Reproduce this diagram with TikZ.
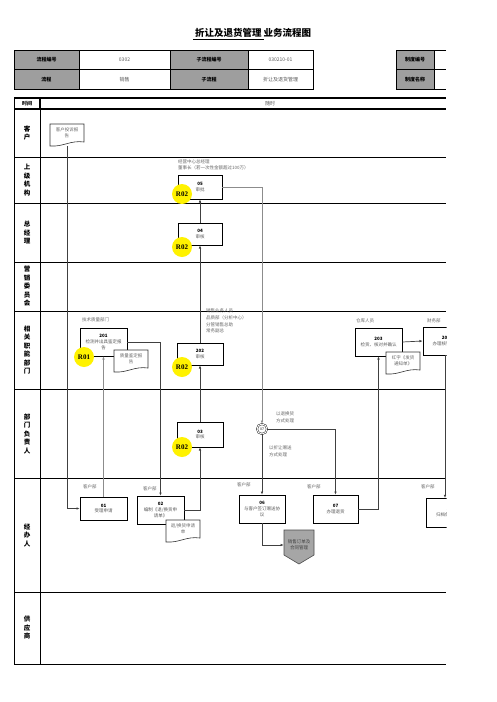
\documentclass[tikz,border=0pt]{standalone}
\usepackage{fontspec}
\setmainfont{Noto Sans CJK SC}
\newfontfamily\rfont{Liberation Serif}
\usetikzlibrary{arrows.meta}
\newcommand\docshape[4]{%
  \draw[line width=0.6pt,draw=black!80,fill=white] (#1,#2) -- (#3,#2) -- (#3,#4-4)
    .. controls (#1+0.6*#3-0.6*#1,#4-6) and (#1+0.4*#3-0.4*#1,#4+1) .. (#1,#4) -- cycle;}
\begin{document}
\begin{tikzpicture}[x=1pt,y=-1pt,
  lanel/.style={line width=0.8pt},
  lanelab/.style={font=\fontsize{6.5}{8.5}\selectfont\bfseries,align=center,inner sep=0},
  hd/.style={font=\fontsize{5}{6}\selectfont\bfseries,inner sep=0},
  hv/.style={font=\fontsize{5}{6}\selectfont,text=black!65,inner sep=0},
  box/.style={draw,line width=0.6pt,fill=white,inner sep=0.3pt,align=center,
    font=\fontsize{4.5}{5.6}\selectfont,text=black!65},
  lbl/.style={font=\fontsize{4.5}{6.6}\selectfont,text=black!60,align=left,inner sep=0},
  dtext/.style={font=\fontsize{4.5}{5.6}\selectfont,text=black!60,align=center,inner sep=0},
  rc/.style={circle,fill=yellow,minimum size=20pt,inner sep=0,font=\rfont\bfseries\fontsize{7}{8}\selectfont},
  conn/.style={line width=0.7pt,draw=black!75},
  gconn/.style={line width=1pt,draw=black!45},
  arr/.style={-{Latex[length=3.2pt,width=2.6pt]}}
]
\useasboundingbox (0,0) rectangle (496,702);
\fill[white] (0,0) rectangle (496,702);

% title
\node[font=\fontsize{9.5}{11}\selectfont\bfseries,inner sep=0] (title) at (252,34) {\underline{\ 折让及退货管理\ }业务流程图};

% header table
\fill[black!38] (14,50) rectangle (79,89);
\fill[black!38] (170,50) rectangle (248,89);
\fill[black!38] (396,50) rectangle (434,89);
\draw[line width=0.8pt] (14,50) rectangle (313,89);
\draw[line width=0.8pt] (14,69.5) -- (313,69.5);
\foreach \x in {79,170,248} \draw[line width=0.8pt] (\x,50) -- (\x,89);
\draw[line width=0.8pt] (446,50) -- (396,50) -- (396,89) -- (446,89);
\draw[line width=0.8pt] (396,69.5) -- (446,69.5);
\draw[line width=0.8pt] (434,50) -- (434,89);
\node[hd] (h1) at (46.5,60) {流程编号};
\node[hv] (h2) at (124.5,60) {0302};
\node[hd] (h3) at (209,60) {子流程编号};
\node[hv] (h4) at (280.5,60) {030210-01};
\node[hd] (h5) at (46.5,79.5) {流程};
\node[hv] (h6) at (124.5,79.5) {销售};
\node[hd] (h7) at (209,79.5) {子流程};
\node[hv] (h8) at (280.5,79.5) {折让及退货管理};
\node[hd] (h9) at (415,60) {制度编号};
\node[hd] (h10) at (415,79.5) {制度名称};

% time row
\draw[line width=1.6pt] (14,98) -- (446,98);
\draw[line width=1.6pt] (14,109) -- (446,109);
\draw[line width=0.8pt] (14,98) -- (14,109);
\draw[line width=1.4pt] (40,98) -- (40,109);
\node[hd] (tt) at (27,103.5) {时间};
\node[hv] (ts) at (270,103.5) {随时};

% lanes
\foreach \y in {157,203,262,311,389,478,592,664} \draw[lanel] (14,\y) -- (446,\y);
\draw[lanel] (14,109) -- (14,664);
\draw[lanel] (40,109) -- (40,664);
\node[lanelab] (l1) at (27,133) {客\\户};
\node[lanelab] (l2) at (27,180) {上\\级\\机\\构};
\node[lanelab] (l3) at (27,232.5) {总\\经\\理};
\node[lanelab] (l4) at (27,286.5) {营\\销\\委\\员\\会};
\node[lanelab] (l5) at (27,350) {相\\关\\职\\能\\部\\门};
\node[lanelab] (l6) at (27,433.5) {部\\门\\负\\责\\人};
\node[lanelab] (l7) at (27,535) {经\\办\\人};
\node[lanelab] (l8) at (27,628) {供\\应\\商};

\begin{scope}
\clip (0,0) rectangle (446.5,702);
% texts
\node[lbl,anchor=west] (t1) at (178,165) {经营中心总经理\\董事长（若一次性金额超过100万）};
\node[lbl,anchor=west] (t2) at (82,320) {技术质量部门};
\node[lbl,anchor=north west] (t3) at (206,309) {销售业务人员\\品质部（分析中心）\\分管销售总助\\常务副总};
\node[lbl,anchor=west] (t4) at (356,321) {仓库人员};
\node[lbl,anchor=west] (t5) at (427,321) {财务部};
\node[lbl,anchor=west] (c1) at (83,487) {客户部};
\node[lbl,anchor=west] (c2) at (143,489) {客户部};
\node[lbl,anchor=west] (c3) at (237,485) {客户部};
\node[lbl,anchor=west] (c4) at (307,487) {客户部};
\node[lbl,anchor=west] (c5) at (421,487) {客户部};
\node[lbl,anchor=west] (g1) at (276,417) {以退换货\\方式处理};
\node[lbl,anchor=west] (g2) at (269,451) {以折让赠送\\方式处理};

% process boxes
\node[box,minimum width=44pt,minimum height=24pt] (b05) at (200,187) {{\color{black}\textbf{05}}\\审批};
\node[box,minimum width=44pt,minimum height=22pt] (b04) at (200,234) {{\color{black}\textbf{04}}\\审核};
\node[box,minimum width=47pt,minimum height=28pt] (b201) at (103.5,342) {{\color{black}\textbf{201}}\\检测并出具鉴定报\\告};
\node[box,minimum width=46pt,minimum height=22pt] (b202) at (200,354) {{\color{black}\textbf{202}}\\审核};
\node[box,minimum width=46pt,minimum height=25pt] (b03) at (200,434.5) {{\color{black}\textbf{03}}\\审核};
\node[box,minimum width=47pt,minimum height=23pt] (b01) at (103.5,508.5) {{\color{black}\textbf{01}}\\受理申请};
\node[box,minimum width=47pt,minimum height=28pt] (b02) at (160.5,510) {{\color{black}\textbf{02}}\\编制《退/换货申\\请单》};
\node[box,minimum width=46pt,minimum height=28pt] (b06) at (262,509) {{\color{black}\textbf{06}}\\与客户签订赠送协\\议};
\node[box,minimum width=45pt,minimum height=28pt] (b07) at (335.5,509) {{\color{black}\textbf{07}}\\办理退货};
\node[box,minimum width=47pt,minimum height=28pt] (b203) at (378.5,342) {{\color{black}\textbf{203}}\\检货、核对并确认};
\node[box,minimum width=46pt,minimum height=28pt] (b204) at (446,341) {{\color{black}\textbf{204}}\\办理核销退款};
\node[box,minimum width=47pt,minimum height=29pt] (b08) at (449.5,512.5) {{\color{black}\textbf{08}}\\归档保存单据};

% documents
\docshape{50}{124}{84}{146}
\node[dtext] (d1) at (67,133) {客户投诉报\\告};
\docshape{114}{350}{148}{372}
\node[dtext] (d2) at (131,359) {质量鉴定报\\告};
\docshape{166}{520}{200}{542}
\node[dtext] (d3) at (183,529) {退/换货申请\\单};
\docshape{386}{352}{420}{374}
\node[dtext] (d4) at (403,361) {红字《发货\\通知单》};

% off-page connector
\draw[line width=0.6pt,fill=black!35,draw=black!70] (284,530) -- (314,530) -- (314,555) -- (299,564) -- (284,555) -- cycle;
\node[dtext,text=black!75,minimum width=30pt,minimum height=30pt] (off) at (299,545) {销售订单及\\合同管理};

% gateway
\node[draw,double,double distance=1pt,circle,minimum size=10pt,inner sep=0,fill=white,font=\fontsize{3.5}{4}\selectfont] (gw) at (262,429) {07};

% connectors
\draw[conn,arr] (d1.south |- 67,146) -- (67,508.5) -- (b01.west);
\draw[gconn,arr] (b01.north) -- (b201.south);
\draw[conn,arr] (b201.east) -| (b02.north);
\draw[conn,arr] (b02.east) -| (b03.south);
\draw[conn,arr] (b03.north) -- (b202.south);
\draw[conn,arr] (b202.north) -- (b04.south);
\draw[conn,arr] (b04.north) -- (b05.south);
\draw[gconn,arr] (b05.east) -| (gw.north);
\draw[conn,arr] (gw.south) -- (b06.north);
\draw[conn,arr] (gw.east) -| (b07.north);
\draw[conn,arr] (b07.east) -| (b203.south);
\draw[conn,arr] (b203.east) -- (b204.west);
\draw[conn,arr] (b204.south -| 445,0) -- (445,498);
\draw[conn,arr] (b06.south) |- (off.west);

% R circles
\node[rc] (r1) at (182,194) {R02};
\node[rc] (r2) at (182,247) {R02};
\node[rc] (r3) at (84,357) {R01};
\node[rc] (r4) at (182,367) {R02};
\node[rc] (r5) at (182,447) {R02};
\end{scope}
\end{tikzpicture}
\end{document}
